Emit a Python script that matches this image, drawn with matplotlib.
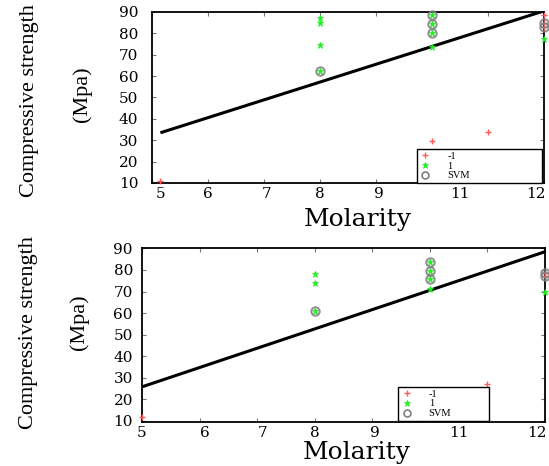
import matplotlib
matplotlib.use("Agg")
import matplotlib.pyplot as plt
from matplotlib.lines import Line2D

# values (x = molarity, y = compressive strength)
top_neg_x = [5.15, 10, 11, 12, 12, 12]
top_neg_y = [11, 29.5, 34, 88.5, 85, 83]
top_pos_x = [8, 8, 8, 8, 10, 10, 10, 10, 12]
top_pos_y = [87, 85, 74.5, 62.5, 88.5, 84.5, 80.3, 73.8, 77.2]
top_sv_x = [8, 10, 10, 10, 12, 12]
top_sv_y = [62.5, 88.5, 84.5, 80.3, 85, 83]
top_line_x = [5.15, 12]
top_line_y = [33.5, 90.5]

bot_neg_x = [5, 11, 12, 12]
bot_neg_y = [11.5, 27, 78.5, 77.2]
bot_pos_x = [8, 8, 8, 10, 10, 10, 10, 12]
bot_pos_y = [78, 74.1, 61, 83.9, 79.5, 75.7, 71, 70]
bot_sv_x = [8, 10, 10, 10, 12, 12]
bot_sv_y = [61, 83.9, 79.5, 75.7, 78.5, 77.2]
bot_line_x = [5, 12]
bot_line_y = [25.7, 88.5]

x_marks = [5, 6, 7, 8, 9, 10, 11, 12]
top_xlabel_pos = [5.15, 6.0, 7.05, 8.0, 9.05, 10.5, 11.86]
bot_xlabel_pos = [5.0, 6.1, 7.1, 8.0, 9.05, 10.5, 11.86]
xlabels = ["5", "6", "7", "8", "9", "11", "12"]
y_ticks = [10, 20, 30, 40, 50, 60, 70, 80, 90]

RED = "#ff5a5a"
GREEN = "#22ee22"
GRAY = "#808080"

fig = plt.figure(figsize=(5.49, 4.66), dpi=100)


def draw_panel(ax, neg_x, neg_y, pos_x, pos_y, sv_x, sv_y, line_x, line_y,
               xlim, ylim, lab_pos, ypad, leg_box):
    ax.plot(line_x, line_y, color="black", lw=2.2, solid_capstyle="butt", zorder=2)
    ax.plot(neg_x, neg_y, "+", color=RED, ms=5, mew=1.0, zorder=3, clip_on=False)
    ax.plot(pos_x, pos_y, "*", color=GREEN, ms=5, mew=0.6, zorder=3, clip_on=False)
    ax.plot(sv_x, sv_y, "o", mfc="none", mec=GRAY, ms=6, mew=1.5, zorder=4,
            alpha=0.85, clip_on=False)
    ax.set_xlim(*xlim)
    ax.set_ylim(*ylim)

    # labels on major ticks (no mark), marks on minor ticks at the integers
    ax.xaxis.remove_overlapping_locs = False
    ax.set_xticks(lab_pos)
    ax.set_xticklabels(xlabels, family="DejaVu Serif", fontsize=11)
    ax.set_xticks(x_marks, minor=True)
    ax.tick_params(axis="x", which="major", length=0, pad=3)
    ax.tick_params(axis="x", which="minor", direction="in", length=3, width=0.8,
                   top=True, bottom=True, color="#777777")

    ax.set_yticks(y_ticks)
    ax.set_yticklabels([str(v) for v in y_ticks], family="DejaVu Serif", fontsize=11)
    ax.tick_params(axis="y", direction="in", length=3, width=0.8, left=True,
                   right=True, pad=ypad, color="#777777", labelcolor="black")

    for s in ax.spines.values():
        s.set_linewidth(1.3)
        s.set_color("black")

    handles = [
        Line2D([], [], ls="none", marker="+", color=RED, ms=5, mew=1.0),
        Line2D([], [], ls="none", marker="*", color=GREEN, ms=5, mew=0.6),
        Line2D([], [], ls="none", marker="o", mfc="none", mec=GRAY, ms=5, mew=1.2),
    ]
    leg = ax.legend(handles, ["-1", "1", "SVM"], loc="lower left",
                    bbox_to_anchor=leg_box, mode="expand", borderaxespad=0,
                    fancybox=False, framealpha=1, edgecolor="black",
                    prop={"family": "Liberation Serif", "size": 7.5},
                    labelspacing=0.05, borderpad=0.25, handlelength=1.2,
                    handletextpad=1.5)
    leg.get_frame().set_linewidth(1.0)
    leg.set_zorder(5)


ax1 = fig.add_axes([0.2769, 0.6073, 0.7140, 0.3670])
draw_panel(ax1, top_neg_x, top_neg_y, top_pos_x, top_pos_y, top_sv_x, top_sv_y,
           top_line_x, top_line_y, (5.15, 12), (10, 90), top_xlabel_pos, 10,
           (0.675, 0.0, 0.319, 0.18))

ax2 = fig.add_axes([0.2587, 0.0951, 0.7341, 0.3717])
draw_panel(ax2, bot_neg_x, bot_neg_y, bot_pos_x, bot_pos_y, bot_sv_x, bot_sv_y,
           bot_line_x, bot_line_y, (5, 12), (9.5, 90), bot_xlabel_pos, 6.5,
           (0.635, 0.005, 0.226, 0.18))

# axis titles
for xc, yc in [(30, 101), (28, 333)]:
    fig.text(xc / 549, 1 - yc / 466, "Compressive strength", rotation=90,
             ha="center", va="center", family="Liberation Serif", fontsize=16)
for xc, yc in [(82, 94), (79, 322)]:
    fig.text(xc / 549, 1 - yc / 466, "(Mpa)", rotation=90,
             ha="center", va="center", family="Liberation Serif", fontsize=16)
for xc, yb in [(358, 226), (357, 459)]:
    fig.text(xc / 549, 1 - yb / 466, "Molarity", ha="center", va="baseline",
             family="DejaVu Serif", fontsize=18)

fig.savefig("out.png", dpi=100)
